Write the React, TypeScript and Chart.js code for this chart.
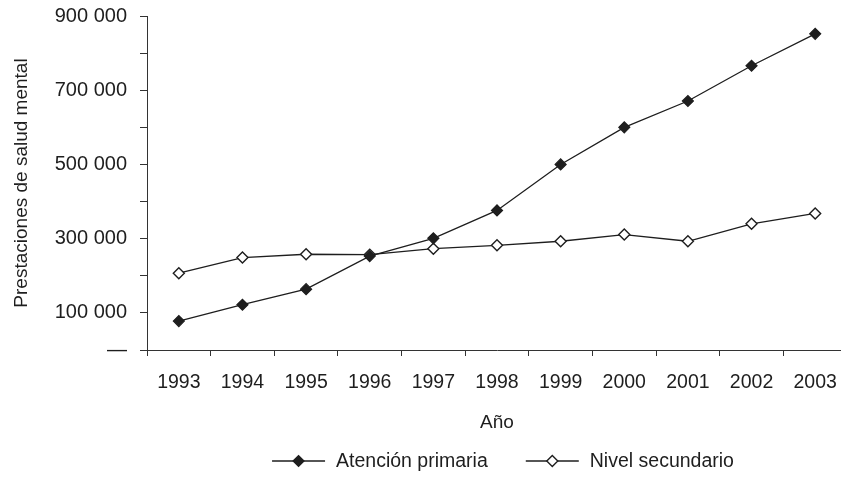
import React, { useEffect, useRef } from "react";
import { Chart, registerables } from "chart.js";

Chart.register(...registerables);

const years = ["1993", "1994", "1995", "1996", "1997", "1998", "1999", "2000", "2001", "2002", "2003"];
const atencionPrimaria = [78000, 122000, 164000, 253000, 301000, 376000, 500000, 600000, 671000, 766000, 852000];
const nivelSecundario = [207000, 249000, 258000, 257000, 273000, 282000, 293000, 311000, 293000, 340000, 368000];
const yTickLabelled = [100000, 300000, 500000, 700000, 900000];

const FONT = '"Liberation Sans", Arial, Helvetica, sans-serif';
const INK = "#1e1e1e";

const fmt = (v: number) => String(v).replace(/\B(?=(\d{3})+(?!\d))/g, " ");

const legendPlugin = {
  id: "lineLegend",
  afterDraw(chart: any) {
    const ctx = chart.ctx as CanvasRenderingContext2D;
    const { left, right } = chart.chartArea;
    ctx.save();
    ctx.font = `19.5px ${FONT}`;
    const lineLen = 53;
    const gap = 11;
    const itemGap = 38;
    const items = chart.data.datasets.map((ds: any) => ({
      ds,
      tw: ctx.measureText(ds.label).width,
    }));
    const total =
      items.reduce((s: number, it: any) => s + lineLen + gap + it.tw, 0) + itemGap * (items.length - 1);
    let x = (left + right) / 2 + 6 - total / 2;
    const y = chart.height - 18;
    items.forEach((it: any) => {
      const ds = it.ds;
      ctx.strokeStyle = ds.borderColor;
      ctx.lineWidth = ds.borderWidth;
      ctx.beginPath();
      ctx.moveTo(x, y);
      ctx.lineTo(x + lineLen, y);
      ctx.stroke();
      const cx = x + lineLen / 2;
      const r = ds.pointRadius;
      ctx.beginPath();
      ctx.moveTo(cx - r, y);
      ctx.lineTo(cx, y - r);
      ctx.lineTo(cx + r, y);
      ctx.lineTo(cx, y + r);
      ctx.closePath();
      ctx.fillStyle = ds.pointBackgroundColor;
      ctx.fill();
      ctx.lineWidth = ds.pointBorderWidth;
      ctx.strokeStyle = ds.pointBorderColor;
      ctx.stroke();
      ctx.fillStyle = INK;
      ctx.textAlign = "left";
      ctx.textBaseline = "middle";
      ctx.fillText(ds.label, x + lineLen + gap, y + 1);
      x += lineLen + gap + it.tw + itemGap;
    });
    ctx.restore();
  },
};

export default function App() {
  const canvasRef = useRef<HTMLCanvasElement | null>(null);

  useEffect(() => {
    if (!canvasRef.current) return;
    const chart = new Chart(canvasRef.current, {
      type: "line",
      data: {
        labels: years,
        datasets: [
          {
            label: "Atención primaria",
            data: atencionPrimaria,
            borderColor: INK,
            borderWidth: 1.3,
            pointStyle: "rectRot",
            pointRadius: 5.5,
            pointBackgroundColor: INK,
            pointBorderColor: INK,
            pointBorderWidth: 1.2,
            tension: 0,
          },
          {
            label: "Nivel secundario",
            data: nivelSecundario,
            borderColor: INK,
            borderWidth: 1.3,
            pointStyle: "rectRot",
            pointRadius: 5.5,
            pointBackgroundColor: "#ffffff",
            pointBorderColor: INK,
            pointBorderWidth: 1.4,
            tension: 0,
          },
        ],
      },
      options: {
        animation: false,
        responsive: false,
        layout: { padding: { left: 0, right: 13, top: 16, bottom: 39 } },
        plugins: {
          legend: { display: false },
          tooltip: { enabled: false },
        },
        scales: {
          x: {
            type: "category",
            offset: true,
            grid: { drawOnChartArea: false, drawTicks: true, tickLength: 6, color: "#333", offset: true },
            border: { display: true, color: "#333", width: 1 },
            ticks: { color: INK, font: { family: FONT, size: 19.5 }, padding: 15, maxRotation: 0, autoSkip: false },
            title: {
              display: true,
              text: "Año",
              color: INK,
              font: { family: FONT, size: 19 },
              padding: { top: 0, bottom: 6 },
            },
            afterFit: (scale: any) => {
              scale.height = 90;
            },
          },
          y: {
            min: 0,
            max: 900000,
            grid: { drawOnChartArea: false, drawTicks: true, tickLength: 7, color: "#333" },
            border: { display: true, color: "#333", width: 1 },
            ticks: {
              stepSize: 100000,
              autoSkip: false,
              color: INK,
              padding: 13,
              font: { family: FONT, size: 20 },
              callback: (v: any) => {
                const n = Number(v);
                if (n === 0) return "—";
                return yTickLabelled.includes(n) ? fmt(n) : "";
              },
            },
            title: {
              display: true,
              text: "Prestaciones de salud mental",
              color: INK,
              font: { family: FONT, size: 19 },
              padding: { top: 10.5, bottom: 0 },
            },
            afterFit: (scale: any) => {
              scale.width = 147;
              scale.paddingTop = 0;
              scale.paddingBottom = 0;
            },
          },
        },
      },
      plugins: [legendPlugin],
    });
    return () => chart.destroy();
  }, []);

  return (
    <div
      style={{
        position: "fixed",
        left: 0,
        top: 0,
        width: 841,
        height: 479,
        overflow: "hidden",
        background: "#ffffff",
      }}
    >
      <canvas ref={canvasRef} width={860} height={479} style={{ display: "block" }} />
    </div>
  );
}
